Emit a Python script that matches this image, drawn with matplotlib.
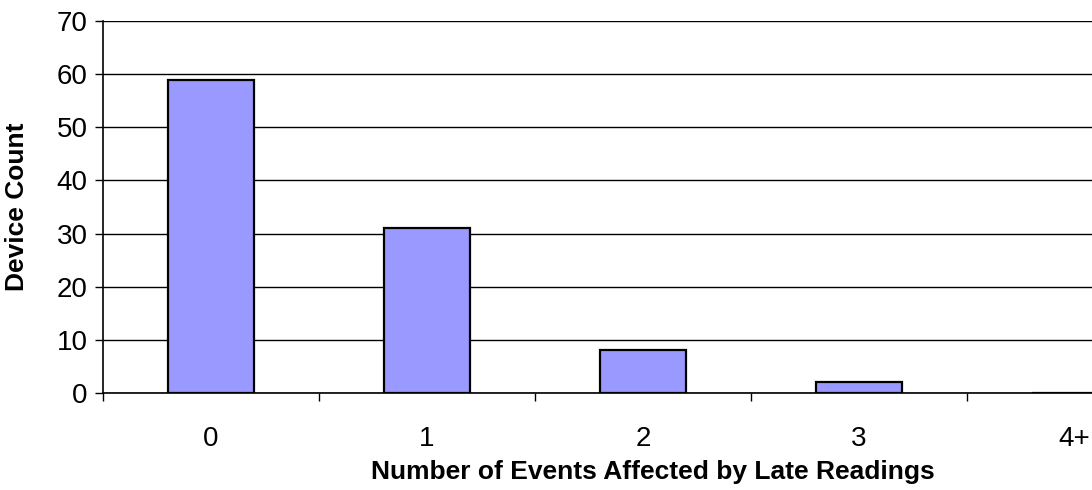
import matplotlib.pyplot as plt
import numpy as np

plt.rcParams['font.family'] = ['Liberation Sans', 'DejaVu Sans']

# Data
categories = ['0', '1', '2', '3', '4+']
device_count = [59, 31, 8, 2, 0]

fig = plt.figure(figsize=(10.92, 4.9), dpi=100)
ax = fig.add_axes([0.0943, 0.198, 0.9057, 0.759])

x = np.arange(len(categories))
ax.bar(x, device_count, width=0.4, color='#9999FF', edgecolor='black', linewidth=1.6, zorder=3)

# y axis
ax.set_ylim(0, 70)
ax.set_yticks(np.arange(0, 71, 10))
ax.yaxis.grid(True, color='black', linewidth=1.0, zorder=0)
ax.tick_params(axis='y', direction='out', length=6, width=1, labelsize=20, pad=5)

# x axis: labels at category centres, tick marks between categories
ax.set_xlim(-0.5, 4.08)
ax.set_xticks(x)
ax.set_xticklabels(categories)
ax.set_xticks(np.arange(-0.5, 4.0, 1.0), minor=True)
ax.tick_params(axis='x', which='major', length=0, labelsize=20, pad=24)
ax.tick_params(axis='x', which='minor', direction='out', length=6, width=1)

for side in ['top', 'right']:
    ax.spines[side].set_visible(False)
ax.spines['left'].set_linewidth(1.2)
ax.spines['bottom'].set_linewidth(1.2)

ax.set_ylabel('Device Count', fontsize=19, fontweight='bold')
ax.yaxis.set_label_coords(-0.075, 0.5)
fig.text(653 / 1092, 1 - 472 / 490, 'Number of Events Affected by Late Readings',
         fontsize=19, fontweight='bold', ha='center', va='center')

fig.savefig('out.png', dpi=100)
